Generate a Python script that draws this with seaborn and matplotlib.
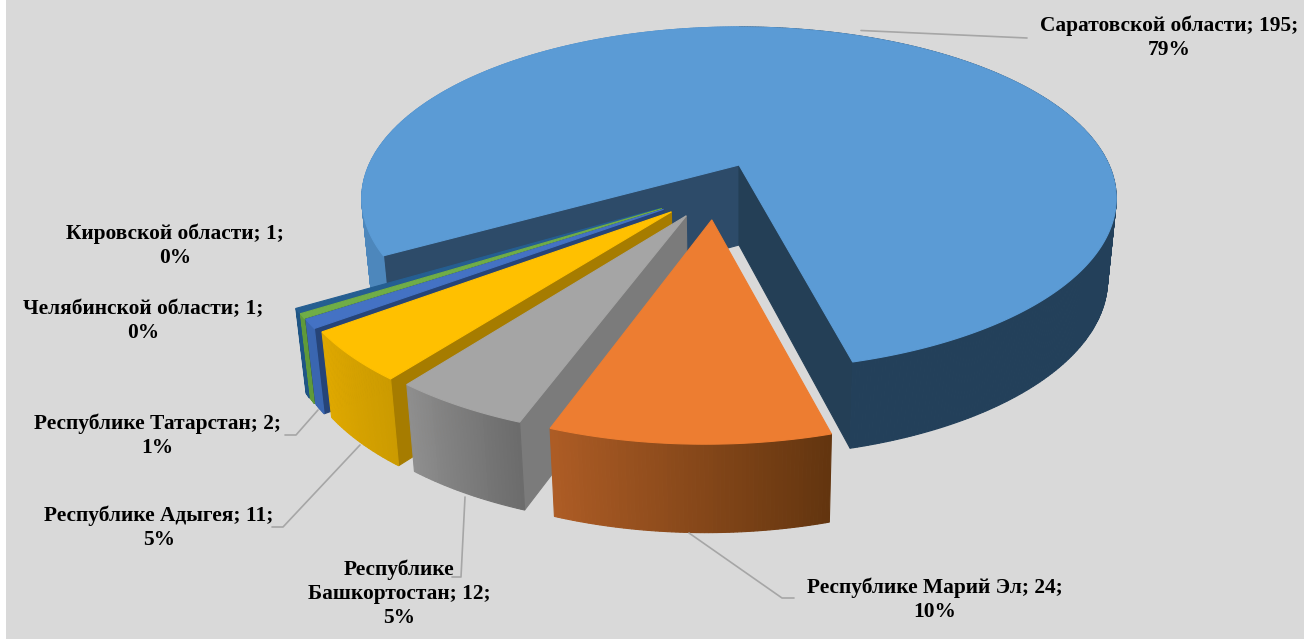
#пирог 3D с вынесенными секторами, seaborn даёт тему и градиенты
import matplotlib
matplotlib.use('Agg')
import matplotlib.pyplot as plt
import numpy as np
import seaborn as sns

names = ['Саратовской области', 'Республике Марий Эл', 'Республике\nБашкортостан',
         'Республике Адыгея', 'Республике Татарстан', 'Челябинской области', 'Кировской области']
values = [195, 24, 12, 11, 2, 1, 1]
percents = ['79%', '10%', '5%', '5%', '1%', '0%', '0%']

top_colors = ['#5B9BD5', '#ED7D31', '#A5A5A5', '#FFC000', '#4472C4', '#70AD47', '#255E91']
face_colors = ['#243F56', '#ED7D31', '#7B7B7B', '#A67C00', '#264478', '#3F6428', '#173A5A']
rim_colors = [('#4D87BC', '#23405A'), ('#AD5C25', '#63350F'), ('#8E8E8E', '#6C6C6C'),
              ('#DFA800', '#CC9B00'), ('#3A66B0', '#3A66B0'), ('#5F9A3A', '#5F9A3A'),
              ('#1F5585', '#1F5585')]
blue_back_face = '#2D4B69'

label_pos = [(1169, 38), (935, 600), (399, 594), (159, 528), (157, 436), (143, 321), (175, 246)]
leaders = [
    [(861, 30.5), (1027, 38)],
    [(689, 533), (782, 598), (794, 598)],
    [(465, 497), (461, 577), (452, 577)],
    [(360, 445), (283, 527), (272, 527)],
    [(318, 410), (296, 435), (285, 435)],
]

#parametri della prospettiva
cx, cy = 739, 165
sx, sy, persp = 370, 132.8, -0.195
depth, depth_persp, shrink = 80, -0.075, 0.977
first_angle = -119.8
explode = 0.32
rim_turn = 1.2
radius = [1.0, 0.96, 0.96, 0.96, 0.96, 0.96, 0.96]


def top(u, v):
    den = 1 + persp * v
    return np.column_stack([cx + sx * u / den, (cy + sy * v) / den])


def bottom(u, v):
    p = top(u, v)
    p[:, 0] = cx + (p[:, 0] - cx) * shrink
    p[:, 1] = p[:, 1] + depth / (1 + depth_persp * v)
    return p


def poly(ax, pts, color, z):
    ax.fill(pts[:, 0], pts[:, 1], color=color, lw=0.8, zorder=z)


sns.set_theme(style='white')
plt.rcParams['font.family'] = ['Liberation Serif', 'DejaVu Serif']

fig = plt.figure(figsize=(13.04, 6.39), dpi=100, facecolor='white')
ax = fig.add_axes([0, 0, 1, 1])
ax.set_xlim(0, 1304)
ax.set_ylim(639, 0)
ax.axis('off')
ax.add_patch(plt.Rectangle((6, 0), 1298, 639, color='#D9D9D9', lw=0, zorder=0))

angles = np.cumsum([0] + values) / sum(values) * 360 + first_angle

for i in range(len(values)):
    a0, a1 = angles[i], angles[i + 1]
    if i == 0:
        z = 1
        ox, oy = 0.0, 0.0
    else:
        #i settori lontani vanno disegnati per primi
        z = 2 + (len(values) - i) * 5
        #la direzione dello stacco e' piu chiusa della bisettrice
        mid = 180 - (a0 + a1) / 2
        bent = np.radians(-11 + 0.47 * mid)
        ox, oy = explode * np.sin(bent), explode * np.cos(bent)
        a0, a1 = a0 - rim_turn, a1 - rim_turn

    t = np.radians(np.linspace(a0, a1, max(int(a1 - a0) * 2, 8)))
    u = ox + radius[i] * np.sin(t)
    v = oy - radius[i] * np.cos(t)
    ap_u, ap_v = np.array([ox]), np.array([oy])

    #facce radiali
    if i == 0:
        left = np.vstack([top(ap_u, ap_v), top(u[:1], v[:1]), bottom(u[:1], v[:1]), bottom(ap_u, ap_v)])
        poly(ax, left, blue_back_face, z)
        right = np.vstack([top(ap_u, ap_v), top(u[-1:], v[-1:]), bottom(u[-1:], v[-1:]), bottom(ap_u, ap_v)])
        poly(ax, right, face_colors[0], z)
    elif a0 > 180:
        #settori a sinistra: si vede la faccia destra
        right = np.vstack([top(ap_u, ap_v), top(u[:1], v[:1]), bottom(u[:1], v[:1]), bottom(ap_u, ap_v)])
        poly(ax, right, face_colors[i], z)

    #bordo esterno a strisce per il gradiente
    n = len(u) - 1
    shades = sns.blend_palette(list(rim_colors[i]), n)
    for k in range(n):
        uu, vv = u[k:k + 2], v[k:k + 2]
        if i == 0:
            col = rim_colors[0][0] if t[k] < 0 else rim_colors[0][1]
        else:
            #il gradiente va da sinistra a destra, i settori al contrario
            col = shades[n - 1 - k]
        strip = np.vstack([top(uu, vv), bottom(uu[::-1], vv[::-1])])
        poly(ax, strip, col, z + 1)

    #faccia superiore
    surface = np.vstack([top(ap_u, ap_v), top(u, v)])
    poly(ax, surface, top_colors[i], z + 2)

for line in leaders:
    xs, ys = zip(*line)
    ax.plot(xs, ys, color='#A6A6A6', lw=1.2, zorder=60)

for name, val, pct, pos in zip(names, values, percents, label_pos):
    ax.text(pos[0], pos[1], f'{name}; {val};\n{pct}', ha='center', va='center', fontsize=15.4,
            fontweight='bold', color='black', linespacing=1.25, zorder=70)

fig.savefig('out.png', dpi=100, facecolor=fig.get_facecolor())
